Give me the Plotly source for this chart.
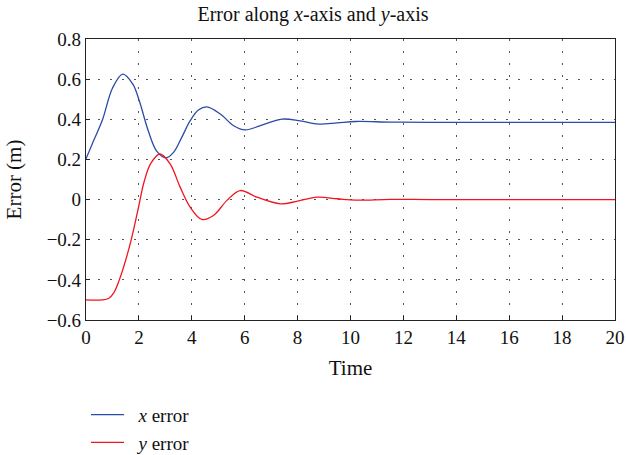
import plotly.graph_objects as go

t_x = [0, 0.31, 0.63, 1.0, 1.39, 1.77, 2.02, 2.36, 2.68, 3.03, 3.31, 3.62, 3.94, 4.25, 4.57, 5.08, 5.58,
       6.02, 6.59, 7.41, 8.1, 8.8, 9.5, 10.2, 11.5, 13, 16, 20]
x_err = [0.203, 0.30, 0.40, 0.555, 0.625, 0.575, 0.49, 0.34, 0.24, 0.208, 0.235, 0.31, 0.393, 0.446, 0.462,
         0.426, 0.368, 0.347, 0.368, 0.401, 0.392, 0.376, 0.382, 0.389, 0.386, 0.385, 0.385, 0.385]

t_y = [0, 0.6, 0.85, 1.05, 1.26, 1.64, 1.96, 2.2, 2.45, 2.8, 3.18, 3.56, 3.94, 4.38, 4.82, 5.33, 5.83,
       6.46, 7.35, 8.0, 8.74, 9.5, 10.2, 11.5, 13, 16, 20]
y_err = [-0.50, -0.50, -0.493, -0.465, -0.40, -0.236, -0.054, 0.09, 0.18, 0.227, 0.178, 0.062, -0.038,
         -0.099, -0.079, -0.004, 0.045, 0.012, -0.021, -0.008, 0.012, 0.004, -0.003, 0.001, 0.0, 0.0, 0.0]

x_ticks = [0, 2, 4, 6, 8, 10, 12, 14, 16, 18, 20]
y_ticks = [-0.6, -0.4, -0.2, 0, 0.2, 0.4, 0.6, 0.8]
y_labels = ["\u22120.6", "\u22120.4", "\u22120.2", "0", "0.2", "0.4", "0.6", "0.8"]

FONT = "Liberation Serif"
TXT = "#111"

fig = go.Figure()
fig.add_trace(go.Scatter(x=t_x, y=x_err, mode="lines", name="\u00a0\u00a0<i>x</i> error",
                         line=dict(color="#2B4BA8", width=1.3, shape="spline", smoothing=1.0)))
fig.add_trace(go.Scatter(x=t_y, y=y_err, mode="lines", name="\u00a0\u00a0<i>y</i> error",
                         line=dict(color="#F0141E", width=1.3, shape="spline", smoothing=1.0)))

axis_common = dict(showline=True, linecolor="#222", linewidth=1.2, mirror=True,
                   ticks="inside", ticklen=4, tickcolor="#222",
                   showgrid=True, gridcolor="#555", gridwidth=1, griddash="1.5px,10.5px",
                   zeroline=False, automargin=False,
                   tickfont=dict(family=FONT, size=19, color=TXT))

fig.update_xaxes(range=[0, 20], tickvals=x_ticks, ticktext=[str(v) for v in x_ticks],
                 title=dict(text="Time", font=dict(family=FONT, size=21, color=TXT), standoff=13),
                 **axis_common)
fig.update_yaxes(range=[-0.6, 0.8], tickvals=y_ticks, ticktext=y_labels,
                 title=dict(text="Error (m)", font=dict(family=FONT, size=21, color=TXT), standoff=19),
                 **axis_common)

fig.update_layout(
    width=626, height=455,
    margin=dict(l=86, r=11, t=39, b=135, autoexpand=False),
    plot_bgcolor="white", paper_bgcolor="white",
    title=dict(text="Error along <i>x</i>-axis and <i>y</i>-axis", x=0.5, xanchor="center",
               y=1 - 14 / 455, yanchor="middle", font=dict(family=FONT, size=20, color=TXT)),
    legend=dict(x=0.0, xanchor="left", y=-0.27, yanchor="top",
                font=dict(family=FONT, size=19, color=TXT), bgcolor="rgba(0,0,0,0)",
                itemwidth=33),
    showlegend=True,
)

fig.write_html("out.html")
